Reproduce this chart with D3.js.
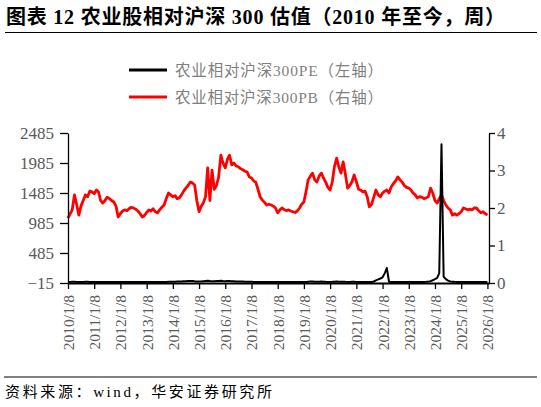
<!DOCTYPE html>
<html lang="zh">
<head>
  <meta charset="UTF-8">
  <title>农业股相对沪深300估值</title>
  <script src="https://d3js.org/d3.v7.min.js"></script>
  <style>
    body { margin: 0; background: #fff; }
    svg text { font-family: "Liberation Serif", "Noto Sans CJK SC", serif; }
    .axis path, .axis line { stroke: #000; stroke-width: 1.3; }
    .axis text { fill: #595959; }
  </style>
</head>
<body>
  <script>
    // Weekly chart approximated by monthly readings, starting 2010/1
    var startDate = new Date(2010, 0, 8);

    // Tick labels on the x axis
    var xTickLabels = ["2010/1/8", "2011/1/8", "2012/1/8", "2013/1/8", "2014/1/8",
      "2015/1/8", "2016/1/8", "2017/1/8", "2018/1/8", "2019/1/8", "2020/1/8",
      "2021/1/8", "2022/1/8", "2023/1/8", "2024/1/8", "2025/1/8", "2026/1/8"];

    var leftTicks = [-15, 485, 985, 1485, 1985, 2485];
    var rightTicks = [0, 1, 2, 3, 4];

    // 农业相对沪深300PB (right axis), one value per month
    var pbValues = [
      1.73, 1.85, 1.95, 2.35, 2.10, 1.81, 2.05, 2.20, 2.35, 2.30, 2.45, 2.43,
      2.38, 2.48, 2.43, 2.20, 2.13, 2.20, 2.29, 2.25, 2.20, 2.16, 2.05, 1.76,
      1.85, 1.92, 1.95, 1.93, 1.98, 2.02, 2.00, 1.97, 1.92, 1.85, 1.76, 1.80,
      1.88, 1.95, 1.92, 1.98, 1.90, 1.87, 1.95, 2.02, 2.08, 2.25, 2.40, 2.35,
      2.30, 2.33, 2.25, 2.27, 2.35, 2.45, 2.53, 2.60, 2.69, 2.67, 2.61, 2.20,
      1.90, 2.05, 2.13, 2.30, 3.07, 2.20, 3.01, 2.50, 2.60, 2.83, 3.41, 3.20,
      3.07, 3.30, 3.41, 3.15, 3.20, 3.12, 3.10, 3.05, 3.02, 2.98, 2.96, 2.83,
      2.80, 2.72, 2.69, 2.50, 2.30, 2.21, 2.15, 2.08, 2.10, 2.08, 2.05, 2.00,
      1.87, 1.95, 2.00, 1.96, 1.93, 1.95, 1.92, 1.90, 1.88, 1.92, 2.00, 2.10,
      2.16, 2.45, 2.75, 2.85, 2.93, 2.75, 2.69, 2.85, 2.93, 2.80, 2.69, 2.55,
      2.48, 2.70, 3.10, 3.33, 3.10, 2.93, 3.23, 2.90, 2.53, 2.60, 2.70, 2.88,
      2.70, 2.50, 2.48, 2.43, 2.45, 2.30, 2.03, 2.10, 2.29, 2.48, 2.35, 2.30,
      2.40, 2.45, 2.48, 2.40, 2.56, 2.65, 2.72, 2.83, 2.75, 2.69, 2.60, 2.55,
      2.53, 2.48, 2.40, 2.35, 2.27, 2.30, 2.29, 2.25, 2.27, 2.30, 2.53, 2.40,
      2.20, 2.13, 2.25, 2.35, 2.20, 2.08, 2.00, 1.95, 1.81, 1.85, 1.81, 1.85,
      1.90, 2.00, 1.98, 1.95, 1.97, 1.95, 2.00, 2.00, 1.93, 1.87, 1.90, 1.85,
      1.81
    ];

    // 农业相对沪深300PE (left axis), one value per month
    var peValues = [
      2, 3, 4, 4, 2, 2, 2, 3, 4, 4, 3, 2,
      2, 3, 2, 2, 1, 2, 2, 2, 1, 1, 1, 1,
      1, 1, 1, 1, 1, 1, 1, 1, 1, 1, 0, 1,
      1, 1, 1, 1, 1, 1, 1, 1, 2, 3, 5, 4,
      4, 6, 8, 10, 12, 14, 16, 18, 20, 18, 14, 12,
      10, 12, 16, 20, 24, 18, 16, 14, 18, 20, 22, 18,
      16, 18, 20, 16, 14, 12, 10, 9, 8, 6, 5, 4,
      4, 3, 3, 2, 2, 2, 1, 1, 1, 1, 1, 1,
      1, 1, 1, 1, 1, 1, 1, 1, 1, 1, 1, 1,
      2, 3, 6, 8, 10, 6, 5, 6, 8, 6, 4, 3,
      3, 4, 6, 8, 6, 4, 6, 4, 3, 3, 4, 4,
      3, 2, 2, 2, 1, 1, 1, 2, 10, 28, 45, 60,
      80, 150, 235, 6, 2, 1, 1, 1, 1, 1, 1, 1,
      1, 1, 1, 1, 1, 1, 2, 2, 4, 8, 16, 30,
      48, 70, 150, 2296, 90, 50, 25, 12, 6, 4, 3, 2,
      2, 1, 1, 1, 1, 1, 1, 1, 1, 1, 1, 1,
      1
    ];

    var w = 541;
    var h = 407;
    var plotLeft = 68, plotRight = 489, plotTop = 133, plotBottom = 283;

    var dates = pbValues.map(function(d, i) {
      return d3.timeMonth.offset(startDate, i);
    });
    var parseTick = d3.timeParse("%Y/%m/%d");

    var svg = d3.select("body")
      .append("svg")
      .attr("width", w)
      .attr("height", h);

    // Title and rules
    svg.append("text")
      .attr("x", 6)
      .attr("y", 24)
      .attr("font-size", 20)
      .attr("font-weight", "bold")
      .attr("fill", "#000")
      .attr("textLength", 499)
      .attr("lengthAdjust", "spacing")
      .text("图表 12 农业股相对沪深 300 估值（2010 年至今，周）");

    svg.append("line")
      .attr("x1", 5).attr("x2", 537)
      .attr("y1", 32.5).attr("y2", 32.5)
      .attr("stroke", "#000").attr("stroke-width", 1);

    svg.append("line")
      .attr("x1", 4).attr("x2", 537)
      .attr("y1", 377).attr("y2", 377)
      .attr("stroke", "#000").attr("stroke-width", 1);

    svg.append("text")
      .attr("x", 5)
      .attr("y", 397)
      .attr("font-size", 15)
      .attr("fill", "#000")
      .attr("textLength", 267)
      .attr("lengthAdjust", "spacing")
      .text("资料来源：wind，华安证券研究所");

    // Scales
    var xScale = d3.scaleTime()
      .domain([new Date(2010, 0, 8), new Date(2026, 0, 30)])
      .range([plotLeft, plotRight]);

    var yLeft = d3.scaleLinear()
      .domain([-15, 2485])
      .range([plotBottom, plotTop]);

    var yRight = d3.scaleLinear()
      .domain([0, 4])
      .range([plotBottom, plotTop]);

    // Lines
    var pbLine = d3.line()
      .x(function(d, i) { return xScale(dates[i]); })
      .y(function(d) { return yRight(d); });

    var peLine = d3.line()
      .x(function(d, i) { return xScale(dates[i]); })
      .y(function(d) { return yLeft(d); });

    svg.append("path")
      .datum(pbValues)
      .attr("d", pbLine)
      .attr("fill", "none")
      .attr("stroke", "#ff0000")
      .attr("stroke-width", 2.8)
      .attr("stroke-linejoin", "round");

    // Axes
    var xAxis = d3.axisBottom(xScale)
      .tickValues(xTickLabels.map(parseTick))
      .tickFormat(function(d, i) { return xTickLabels[i]; })
      .tickSize(6)
      .tickSizeOuter(0);

    var gx = svg.append("g")
      .attr("class", "axis")
      .attr("transform", "translate(0," + plotBottom + ")")
      .call(xAxis);
    gx.select(".domain").style("stroke-width", 1.8);
    gx.selectAll("text")
      .attr("font-size", 15.5)
      .attr("transform", "rotate(-90)")
      .attr("text-anchor", "end")
      .attr("x", -12)
      .attr("y", 0)
      .attr("dy", "0.35em");

    var gl = svg.append("g")
      .attr("class", "axis")
      .attr("transform", "translate(" + plotLeft + ",0)")
      .call(d3.axisLeft(yLeft).tickValues(leftTicks).tickFormat(d3.format("d"))
        .tickSize(8).tickPadding(6).tickSizeOuter(0));
    gl.selectAll("text").attr("font-size", 17);

    var gr = svg.append("g")
      .attr("class", "axis")
      .attr("transform", "translate(" + plotRight + ",0)")
      .call(d3.axisRight(yRight).tickValues(rightTicks).tickFormat(d3.format("d"))
        .tickSize(6).tickPadding(2).tickSizeOuter(0));
    gr.selectAll("text").attr("font-size", 17);

    svg.append("path")
      .datum(peValues)
      .attr("d", peLine)
      .attr("fill", "none")
      .attr("stroke", "#000")
      .attr("stroke-width", 2)
      .attr("stroke-linejoin", "round");

    // Legend
    var legend = [
      { name: "农业相对沪深300PE（左轴）", color: "#000", y: 70 },
      { name: "农业相对沪深300PB（右轴）", color: "#ff0000", y: 97 }
    ];
    var lg = svg.append("g").selectAll("g")
      .data(legend)
      .enter()
      .append("g");
    lg.append("line")
      .attr("x1", 129).attr("x2", 167)
      .attr("y1", function(d) { return d.y; })
      .attr("y2", function(d) { return d.y; })
      .attr("stroke", function(d) { return d.color; })
      .attr("stroke-width", 3);
    lg.append("text")
      .attr("x", 175)
      .attr("y", function(d) { return d.y + 5.5; })
      .attr("font-size", 15.5)
      .attr("fill", "#7f7f7f")
      .attr("textLength", 208)
      .attr("lengthAdjust", "spacing")
      .text(function(d) { return d.name; });
  </script>
</body>
</html>
